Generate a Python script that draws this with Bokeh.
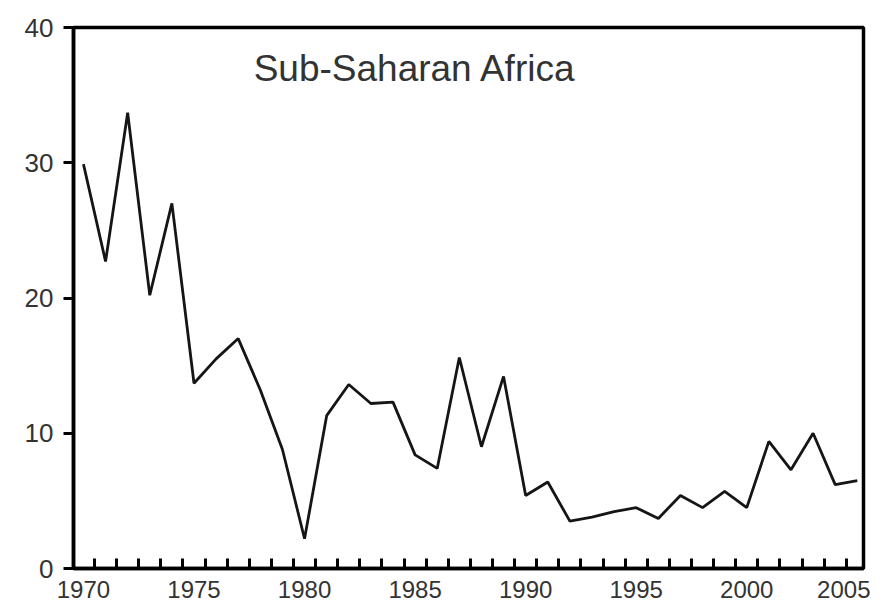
from bokeh.plotting import figure
from bokeh.models import FixedTicker, Label, Range1d
from bokeh.embed import file_html
from bokeh.resources import INLINE

years = list(range(1970, 2006))
values = [29.9, 22.7, 33.7, 20.2, 27.0, 13.7, 15.5, 17.0, 13.2, 8.8,
          2.2, 11.3, 13.6, 12.2, 12.3, 8.4, 7.4, 15.6, 9.0, 14.2,
          5.4, 6.4, 3.5, 3.8, 4.2, 4.5, 3.7, 5.4, 4.5, 5.7,
          4.5, 9.4, 7.3, 10.0, 6.2, 6.5]
x_labels = [1970, 1975, 1980, 1985, 1990, 1995, 2000, 2005]
x_minor = [y + 0.5 for y in range(1970, 2005)]
y_ticks = [0, 10, 20, 30, 40]
title_text = "Sub-Saharan Africa"

FONT = "Liberation Sans"

p = figure(width=870, height=608, output_backend="svg", toolbar_location=None,
           x_range=Range1d(1969.55, 2005.28), y_range=Range1d(0, 40),
           min_border_left=73, min_border_right=7, min_border_top=27,
           min_border_bottom=40)

p.line(years, values, line_color="#151515", line_width=2.8)

p.xgrid.visible = False
p.ygrid.visible = False
p.outline_line_color = "black"
p.outline_line_width = 3.5
p.outline_line_alpha = 1.0

xa = p.xaxis[0]
xa.ticker = FixedTicker(ticks=x_labels, minor_ticks=x_minor)
xa.major_tick_in = 0
xa.major_tick_out = 0
xa.minor_tick_in = 10
xa.minor_tick_out = 0
xa.minor_tick_line_width = 3
xa.minor_tick_line_color = "black"
xa.axis_line_color = "black"
xa.axis_line_width = 3.5
xa.major_label_text_font = FONT
xa.major_label_text_font_size = "24px"
xa.major_label_text_color = "#333333"
xa.major_label_standoff = 12

ya = p.yaxis[0]
ya.ticker = FixedTicker(ticks=y_ticks)
ya.major_tick_in = 0
ya.major_tick_out = 10
ya.major_tick_line_width = 3
ya.major_tick_line_color = "black"
ya.minor_tick_in = 0
ya.minor_tick_out = 0
ya.axis_line_color = "black"
ya.axis_line_width = 3.5
ya.major_label_text_font = FONT
ya.major_label_text_font_size = "26px"
ya.major_label_text_color = "#333333"
ya.major_label_standoff = 10

title = Label(x=1985, y=37, text=title_text, text_align="center",
              text_baseline="middle", text_font=FONT,
              text_font_size="37px", text_color="#333333")
p.add_layout(title)

open("out.html", "w").write(file_html(p, INLINE))
